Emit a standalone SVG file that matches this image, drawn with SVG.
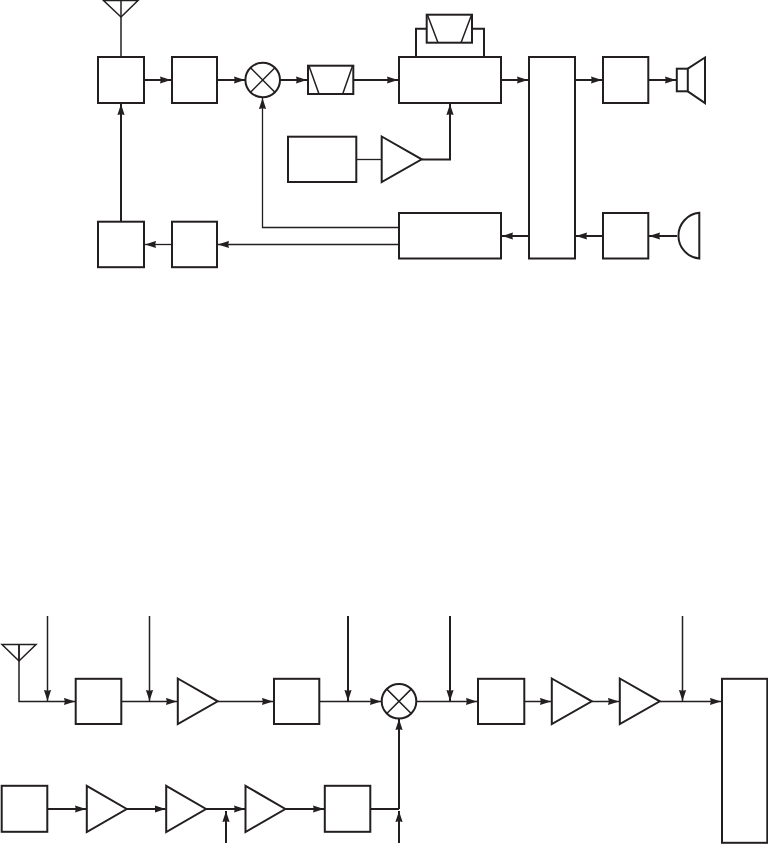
<svg xmlns="http://www.w3.org/2000/svg" width="768" height="844" viewBox="0 0 768 844">
<style>
.s{fill:#fff;stroke:#231f20;stroke-width:2}
.o{fill:none;stroke:#231f20;stroke-width:2}
.t{fill:none;stroke:#231f20;stroke-width:1.3}
.m{fill:none;stroke:#231f20;stroke-width:1.5}
.h{fill:none;stroke:#231f20;stroke-width:2}
.a{marker-end:url(#ah)}
</style>
<defs>
<marker id="ah" markerUnits="userSpaceOnUse" markerWidth="12" markerHeight="8" refX="11" refY="4" orient="auto" viewBox="0 0 12 8"><path d="M0,0.4 L11,4 L0,7.6 L0.8,4 Z" fill="#231f20"/></marker>
</defs>
<g id="connectors">
<path class="m" d="M121,17V57"/>
<path class="h a" d="M144,80H171"/>
<path class="h a" d="M217,80H245"/>
<path class="h a" d="M280,80H307"/>
<path class="h a" d="M353,80H398"/>
<path class="h a" d="M501,80H528"/>
<path class="h a" d="M575,80H602"/>
<path class="h a" d="M648,80H676"/>
<path class="h" d="M416,57V28.7H427M472,28.7H484V57"/>
<path class="t" d="M356,159.5H381.5"/>
<path class="h a" d="M421.5,159.5H450V104"/>
<path class="t a" d="M399,227.5H262.5V98"/>
<path class="t a" d="M399,244.5H218"/>
<path class="t a" d="M172,244.5H145"/>
<path class="h a" d="M121,222V104"/>
<path class="h a" d="M529,236H502"/>
<path class="h a" d="M603,236H576"/>
<path class="h a" d="M677,236H649"/>

<path class="m a" d="M19,644.5V701.5H75"/>
<path class="m a" d="M47.5,616V701"/>
<path class="m a" d="M122,701.5H177"/>
<path class="m a" d="M149.5,616V701"/>
<path class="m a" d="M218,701.5H273"/>
<path class="m a" d="M319.5,701.5H381"/>
<path class="h a" d="M348,616V701"/>
<path class="m a" d="M416.5,701.5H477"/>
<path class="h a" d="M450,616V701"/>
<path class="m a" d="M524.5,701.5H551"/>
<path class="m a" d="M592,701.5H619"/>
<path class="m a" d="M660,701.5H721"/>
<path class="m a" d="M682.5,616V701"/>
<path class="h a" d="M47.5,809H86"/>
<path class="h a" d="M127,809H165.5"/>
<path class="h a" d="M206,809H245"/>
<path class="h a" d="M226,843V811"/>
<path class="h a" d="M285.5,809H324"/>
<path class="h" d="M370.5,809H399"/>
<path class="h a" d="M399,809V719"/>
<path class="h a" d="M399,843V811"/>
</g>
<g id="antenna-top"><path class="m" d="M103.5,0.5H138L121,17Z"/><path class="m" d="M121,0.5V17"/></g>
<g id="duplexer"><rect class="s" x="98" y="57" width="46" height="46"/></g>
<g id="box-rx-amp"><rect class="s" x="172" y="57" width="45" height="46"/></g>
<g id="mixer-top"><circle class="s" cx="262.7" cy="80" r="17.3"/><path class="m" d="M250.5,67.8L274.9,92.2M274.9,67.8L250.5,92.2"/></g>
<g id="filter-if"><rect class="s" x="308" y="65.7" width="45.3" height="28.3"/><path class="m" d="M309,66L319,94M352.5,66L342.7,94"/></g>
<g id="demod"><rect class="s" x="399" y="57" width="102" height="46"/></g>
<g id="filter-top"><rect class="s" x="426.7" y="14.7" width="45.3" height="28"/><path class="m" d="M427.5,15L438,42.7M471.5,15L461,42.7"/></g>
<g id="baseband"><rect class="s" x="529" y="57" width="46" height="201.5"/></g>
<g id="box-audio-out"><rect class="s" x="603" y="57" width="45.3" height="46"/></g>
<g id="speaker"><rect class="s" x="676.8" y="68.7" width="11" height="22.6"/><path class="o" d="M687.8,68.7L705,57.5V103L687.8,91.3"/></g>
<g id="osc"><rect class="s" x="288" y="136.7" width="68.3" height="45.3"/></g>
<g id="amp-osc"><path class="s" d="M381.7,136.5L421.7,159.3L381.7,182Z"/></g>
<g id="modulator"><rect class="s" x="399" y="213" width="102" height="45.5"/></g>
<g id="box-audio-in"><rect class="s" x="603" y="213" width="45.3" height="45.5"/></g>
<g id="mic"><path class="o" d="M699.3,212.8A23,23 0 0 0 699.3,258.6Z"/></g>
<g id="box-tx-left"><rect class="s" x="98" y="221.7" width="46" height="45.5"/></g>
<g id="box-tx-mid"><rect class="s" x="172" y="221.7" width="45" height="45.5"/></g>

<g id="antenna-bottom"><path class="m" d="M2,644.5H36L19,661Z"/><path class="m" d="M19,644.5V661"/></g>
<g id="box-a"><rect class="s" x="75.7" y="678.8" width="45.6" height="45.2"/></g>
<g id="amp-a"><path class="s" d="M177.8,678.5L217.7,701.3L177.8,724Z"/></g>
<g id="box-b"><rect class="s" x="274" y="678.8" width="45.3" height="45.2"/></g>
<g id="mixer-bottom"><circle class="s" cx="399" cy="701.3" r="17.3"/><path class="m" d="M386.8,689.1L411.2,713.5M411.2,689.1L386.8,713.5"/></g>
<g id="box-c"><rect class="s" x="478" y="678.8" width="46.3" height="45.2"/></g>
<g id="amp-b"><path class="s" d="M551.8,678.5L591.8,701.3L551.8,724Z"/></g>
<g id="amp-c"><path class="s" d="M619.8,678.5L659.8,701.3L619.8,724Z"/></g>
<g id="box-tall"><rect class="s" x="722" y="678.8" width="45.3" height="164"/></g>
<g id="box-d"><rect class="s" x="1.7" y="785.8" width="45.6" height="46"/></g>
<g id="amp-d"><path class="s" d="M86.8,785.8L126.7,809L86.8,832Z"/></g>
<g id="amp-e"><path class="s" d="M166.2,785.8L206,809L166.2,832Z"/></g>
<g id="amp-f"><path class="s" d="M245.5,785.8L285.3,809L245.5,832Z"/></g>
<g id="box-e"><rect class="s" x="324.8" y="785.8" width="45.5" height="46"/></g>
</svg>
